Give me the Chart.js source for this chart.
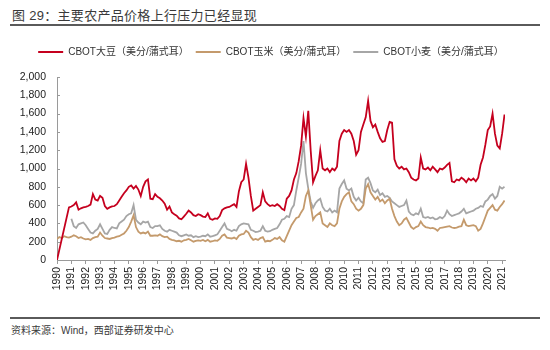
<!DOCTYPE html>
<html>
<head>
<meta charset="utf-8">
<script src="https://cdn.jsdelivr.net/npm/chart.js@4/dist/chart.umd.min.js"></script>
<style>
    html, body { margin: 0; padding: 0; background: #fff; }
    body { width: 550px; height: 350px; position: relative; overflow: hidden;
           font-family: "Liberation Sans", "Noto Sans CJK SC", sans-serif; }
    .title { position: absolute; left: 12px; top: 5px; font-size: 13px; color: #3a3a3a; letter-spacing: 0.3px; }
    .rule { position: absolute; left: 10px; width: 530px; height: 2px; background: #5a5a5a; }
    .source { position: absolute; left: 11px; top: 322px; font-size: 10px; color: #3a3a3a; }
    #wrap { position: absolute; left: 0; top: 30px; width: 550px; height: 280px; }
</style>
</head>
<body>
<div class="title">图 29：主要农产品价格上行压力已经显现</div>
<div class="rule" style="top:24px"></div>
<div id="wrap"><canvas id="chart"></canvas></div>
<div class="rule" style="top:317px"></div>
<div class="source">资料来源：Wind，西部证券研发中心</div>

<script>
// ---- Data (two-monthly readings, starting Jan of the first label year) ----
const START_YEAR = 1990;
const POINTS_PER_YEAR = 6;
const yearTicks = [1990, 1991, 1992, 1993, 1994, 1995, 1996, 1997, 1998, 1999, 2000, 2001, 2002, 2003, 2004, 2005,
                   2006, 2007, 2008, 2009, 2010, 2011, 2012, 2013, 2014, 2015, 2016, 2017, 2018, 2019, 2020, 2021];
const seriesNames = ['CBOT大豆（美分/蒲式耳）', 'CBOT玉米（美分/蒲式耳）', 'CBOT小麦（美分/蒲式耳）'];

const soybean = [
    0, null, null, null, null, 575,          // 1990
    585, 600, 630, 550, 565, 575,            // 1991
    580, 590, 605, 720, 660, 650,            // 1992
    700, 680, 590, 560, 575, 585,            // 1993
    590, 610, 650, 690, 730, 760,            // 1994
    800, 815, 780, 810, 770, 700,            // 1995
    800, 860, 880, 670, 665, 720,            // 1996
    690, 675, 650, 615, 550, 585,            // 1997
    520, 500, 485, 455, 445, 475,            // 1998
    505, 540, 520, 490, 480, 500,            // 1999
    490, 475, 470, 510, 450, 440,            // 2000
    455, 450, 480, 545, 565, 575,            // 2001
    580, 595, 610, 580, 750, 850,            // 2002
    880, 1050, 900, 700, 540, 560,           // 2003
    580, 600, 740, 640, 610, 590,            // 2004
    600, 590, 610, 590, 560, 545,            // 2005
    670, 700, 760, 880, 950, 1080,           // 2006
    1250, 1550, 1350, 1630, 1200, 850,       // 2007
    920, 980, 1200, 1000, 980, 1000,         // 2008
    960, 1000, 980, 1020, 1300, 1380,        // 2009
    1420, 1400, 1420, 1380, 1300, 1150,      // 2010
    1200, 1400, 1480, 1560, 1740, 1520,      // 2011
    1450, 1480, 1400, 1330, 1290, 1300,      // 2012
    1420, 1510, 1500, 1100, 1030, 1000,      // 2013
    1020, 990, 1000, 960, 900, 880,          // 2014
    870, 890, 1120, 1000, 990, 1010,         // 2015
    980, 1020, 990, 960, 1000, 990,          // 2016
    1010, 1040, 1060, 860, 850, 880,         // 2017
    870, 900, 880, 850, 890, 870,            // 2018
    890, 860, 900, 1040, 1120, 1260,         // 2019
    1420, 1460, 1600, 1380, 1250, 1220,      // 2020
    1380, 1590                               // 2021
];

const corn = [
    230, 250, 240, 260, 250, 245,            // 1990
    255, 270, 260, 240, 250, 235,            // 1991
    225, 230, 220, 240, 250, 255,            // 1992
    300, 265, 240, 235, 230, 240,            // 1993
    245, 255, 260, 275, 290, 320,            // 1994
    360, 420, 490, 360, 310, 290,            // 1995
    300, 290, 310, 265, 265, 270,            // 1996
    265, 280, 260, 250, 255, 230,            // 1997
    220, 215, 205, 210, 200, 215,            // 1998
    220, 230, 215, 200, 210, 215,            // 1999
    210, 220, 205, 220, 200, 205,            // 2000
    215, 210, 230, 265, 280, 245,            // 2001
    240, 235, 245, 230, 265, 280,            // 2002
    285, 320, 300, 250, 220, 230,            // 2003
    220, 240, 250, 200, 210, 205,            // 2004
    220, 240, 230, 250, 215, 200,            // 2005
    260, 320, 380, 420, 460, 470,            // 2006
    520, 560, 700, 760, 600, 440,            // 2007
    480, 500, 520, 400, 380, 360,            // 2008
    400, 380, 370, 400, 560, 640,            // 2009
    690, 720, 740, 640, 610, 560,            // 2010
    540, 560, 600, 780, 830, 740,            // 2011
    700, 660, 690, 640, 660, 620,            // 2012
    650, 670, 560, 480, 420, 380,            // 2013
    400, 440, 460, 410, 360, 340,            // 2014
    360, 370, 420, 380, 360, 355,            // 2015
    345, 350, 340, 320, 350, 355,            // 2016
    360, 365, 370, 355, 350, 355,            // 2017
    365, 370, 440, 380, 370, 375,            // 2018
    380, 370, 320, 340, 400, 470,            // 2019
    540, 570, 600, 550, 540, 580,            // 2020
    610, 650                                 // 2021
];

const wheat = [
    null, null, null, null, null, null,      // 1990
    450, 370, 350, 390, 400, 410,            // 1991
    380, 340, 300, 290, 320, 340,            // 1992
    390, 340, 290, 285, 330, 360,            // 1993
    350, 345, 400, 420, 440, 480,            // 1994
    500, 510, 600, 440, 410, 390,            // 1995
    420, 410, 420, 360, 350, 370,            // 1996
    370, 380, 340, 320, 310, 330,            // 1997
    320, 310, 300, 270, 260, 270,            // 1998
    280, 265, 270, 250, 260, 250,            // 1999
    255, 265, 260, 280, 255, 260,            // 2000
    270, 280, 320, 360, 400, 340,            // 2001
    330, 315, 330, 320, 370, 390,            // 2002
    400, 395, 390, 330, 320, 305,            // 2003
    310, 320, 370, 320, 310, 315,            // 2004
    330, 340, 350, 390, 440, 450,            // 2005
    480, 470, 560, 600, 760, 900,            // 2006
    1050, 1300, 950, 780, 640, 570,          // 2007
    620, 650, 670, 580, 540, 530,            // 2008
    560, 520, 540, 520, 780, 830,            // 2009
    870, 780, 760, 780, 690, 650,            // 2010
    680, 640, 620, 880, 900, 840,            // 2011
    760, 740, 770, 710, 730, 690,            // 2012
    700, 680, 640, 620, 600, 580,            // 2013
    590, 600, 650, 530, 500, 490,            // 2014
    510, 500, 560, 470, 460, 470,            // 2015
    455, 465, 445, 450, 470, 455,            // 2016
    480, 540, 500, 480, 490, 500,            // 2017
    510, 530, 560, 510, 520, 530,            // 2018
    540, 560, 570, 590, 580, 640,            // 2019
    660, 700, 720, 670, 700, 800,            // 2020
    780, 800                                 // 2021
];

const colors = ['#C5001E', '#C49A6C', '#A6A6A6'];
const FONT = "'Liberation Sans', 'Noto Sans CJK SC', sans-serif";

function toPoints(values) {
    return values.map((v, i) => ({ x: START_YEAR + i / POINTS_PER_YEAR, y: v }));
}

// legend: a bit of space underneath, and a box that centres it over the plot
const legendTweak = {
    id: 'legendTweak',
    beforeInit(chart) {
        const fit = chart.legend.fit;
        chart.legend.fit = function () {
            fit.bind(chart.legend)();
            this.height += 10;
        };
    },
    afterLayout(chart) {
        chart.legend.left = 30;
        chart.legend.right = 512;
    }
};

// small inward tick marks on the value axis
const yInnerTicks = {
    id: 'yInnerTicks',
    afterDraw(chart) {
        const { ctx, scales: { y } } = chart;
        ctx.save();
        ctx.strokeStyle = '#9a9a9a';
        ctx.lineWidth = 1;
        y.ticks.forEach(t => {
            const py = Math.round(y.getPixelForValue(t.value)) + 0.5;
            ctx.beginPath();
            ctx.moveTo(y.right, py);
            ctx.lineTo(y.right + 3, py);
            ctx.stroke();
        });
        ctx.restore();
    }
};

const allSeries = [soybean, corn, wheat];

new Chart(document.getElementById('chart'), {
    type: 'line',
    data: {
        datasets: allSeries.map((vals, k) => ({
            label: seriesNames[k],
            data: toPoints(vals),
            borderColor: colors[k],
            backgroundColor: colors[k],
            borderWidth: 1.8,
            pointRadius: 0,
            tension: 0,
            spanGaps: true
        }))
    },
    options: {
        responsive: true,
        maintainAspectRatio: false,
        animation: false,
        layout: { padding: { top: 10, right: 45, left: 0, bottom: 0 } },
        plugins: {
            legend: {
                position: 'top',
                labels: {
                    boxWidth: 25,
                    boxHeight: 2,
                    padding: 7,
                    color: '#333',
                    font: { family: FONT, size: 10 },
                    generateLabels: chart => Chart.defaults.plugins.legend.labels.generateLabels(chart)
                        .map(l => ({ ...l, lineWidth: 0 }))
                }
            },
            tooltip: { enabled: false }
        },
        scales: {
            x: {
                type: 'linear',
                min: START_YEAR,
                max: 2021.2,
                afterFit: s => { s.height = 50; },
                afterBuildTicks: s => { s.ticks = yearTicks.map(v => ({ value: v })); },
                grid: { drawOnChartArea: false, tickLength: 4, color: '#9a9a9a' },
                border: { color: '#9a9a9a', width: 1 },
                ticks: {
                    autoSkip: false,
                    minRotation: 90,
                    maxRotation: 90,
                    padding: 3,
                    color: '#222',
                    font: { family: FONT, size: 10.5 },
                    callback: v => String(v)
                }
            },
            y: {
                min: 0,
                max: 2000,
                afterFit: s => { s.width = 57; },
                grid: { drawOnChartArea: false, drawTicks: false },
                border: { color: '#9a9a9a', width: 1 },
                ticks: {
                    stepSize: 200,
                    padding: 11,
                    color: '#222',
                    font: { family: FONT, size: 10.5 },
                    callback: v => v.toLocaleString('en-US')
                }
            }
        }
    },
    plugins: [legendTweak, yInnerTicks]
});
</script>
</body>
</html>
